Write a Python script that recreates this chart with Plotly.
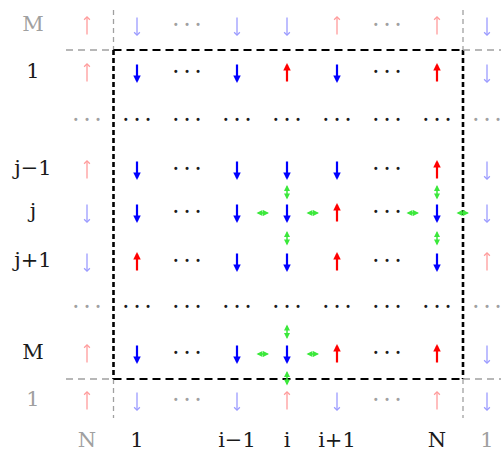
import plotly.graph_objects as go

# Lattice headers (first/last entries are the periodic ghost copies)
col_labels = ["N", "1", "", "i−1", "i", "i+1", "", "N", "1"]
row_labels = ["M", "1", "", "j−1", "j", "j+1", "", "M", "1"]

# Spin configuration on the physical lattice: +1 = up, -1 = down
# columns: 1, i−1, i, i+1, N
spins = {
    "1":   [-1, -1, +1, -1, +1],
    "j−1": [-1, -1, -1, -1, +1],
    "j":   [-1, -1, -1, +1, -1],
    "j+1": [+1, -1, -1, +1, -1],
    "M":   [-1, -1, -1, +1, +1],
}
spin_cols = ["1", "i−1", "i", "i+1", "N"]

# Sites whose four nearest-neighbour couplings are highlighted (row, column)
highlight_sites = [("j", "i"), ("j", "N"), ("M", "i")]

# ---- geometry of the drawing -------------------------------------------
COL_P = {"1": 1, "i−1": 3, "i": 4, "i+1": 5, "N": 7}     # column slots
ELLIPSIS_COLS = [2, 6]
GHOST_COLS = [0, 8]
ROW_Y = [26, 73, 121, 170, 213, 262, 308, 354, 401]     # row centres
ROW_IDX = {"1": 1, "j−1": 3, "j": 4, "j+1": 5, "M": 7}
DOT_ROWS = [2, 6]
GHOST_ROWS = [0, 8]
LABEL_X = -1.08
LABEL_Y = 442
BOUND_X = (0.53, 7.52)
BOUND_Y = (50, 379)

RED, BLUE = "#ff0000", "#0000ff"
RED_F, BLUE_F = "#ff9c9c", "#9c9cff"
GREEN = "#3be83b"
GREY = "#a0a0a0"
INK = "#1a1a1a"
FONT = "DejaVu Serif"


def spin_at(r, p):
    """Spin shown at grid row r, grid slot p, using periodic boundaries."""
    row_name = {0: "M", 8: "1"}.get(r)
    if row_name is None:
        row_name = [k for k, v in ROW_IDX.items() if v == r][0]
    if p == 0:
        col_name = "N"
    elif p == 8:
        col_name = "1"
    else:
        col_name = [k for k, v in COL_P.items() if v == p][0]
    return spins[row_name][spin_cols.index(col_name)]


annotations = []


def arrow(x0, y0, x1, y1, color, width, head, size, both=False):
    annotations.append(dict(
        x=x1, y=y1, ax=x0, ay=y0, xref="x", yref="y", axref="x", ayref="y",
        text="", showarrow=True, arrowcolor=color, arrowwidth=width,
        arrowhead=head, arrowsize=size,
        startarrowhead=head, startarrowsize=size,
        arrowside="end+start" if both else "end",
    ))


dot_x, dot_y, dot_c = [], [], []
HALF = 10
for r, y in enumerate(ROW_Y):
    for p in range(9):
        ghost = r in GHOST_ROWS or p in GHOST_COLS
        if r in DOT_ROWS or p in ELLIPSIS_COLS:
            dot_x.append(p)
            dot_y.append(y)
            dot_c.append(GREY if ghost else INK)
            continue
        s = spin_at(r, p)
        if ghost:
            col = RED_F if s > 0 else BLUE_F
            arrow(p, y + s * HALF, p, y - s * HALF, col, 1.3, 4, 0.85)
        else:
            col = RED if s > 0 else BLUE
            arrow(p, y + s * HALF, p, y - s * HALF, col, 2.2, 2, 0.68)

# highlighted couplings: double-headed green arrows between neighbours
for rname, cname in highlight_sites:
    r, p = ROW_IDX[rname], COL_P[cname]
    y = ROW_Y[r]
    for dp in (-0.5, 0.5):
        xm = p + dp
        arrow(xm - 0.14, y, xm + 0.14, y, GREEN, 1.5, 2, 0.8, both=True)
    for nb in (r - 1, r + 1):
        ym = (y + ROW_Y[nb]) / 2
        arrow(p, ym - 8, p, ym + 8, GREEN, 1.5, 2, 0.8, both=True)

fig = go.Figure()

# ellipses between the shown rows/columns
fig.add_trace(go.Scatter(
    x=dot_x, y=[v - 4 for v in dot_y], mode="text", text=["<b>. . .</b>"] * len(dot_x),
    textfont=dict(family=FONT, size=16, color=dot_c), hoverinfo="skip",
))

# row headers
fig.add_trace(go.Scatter(
    x=[LABEL_X] * len(row_labels), y=ROW_Y, mode="text", text=row_labels,
    textfont=dict(family=FONT, size=21,
                  color=[GREY if r in GHOST_ROWS else INK for r in range(9)]),
    hoverinfo="skip",
))

# column headers
fig.add_trace(go.Scatter(
    x=list(range(9)), y=[LABEL_Y] * 9, mode="text", text=col_labels,
    textfont=dict(family=FONT, size=21,
                  color=[GREY if p in GHOST_COLS else INK for p in range(9)]),
    hoverinfo="skip",
))

# periodic-boundary frame: black inside, grey where it runs into ghost cells
shapes = []
x_lo, x_hi = -0.42, 8.4
y_lo, y_hi = 10, 418
for bx in BOUND_X:
    shapes += [
        dict(type="line", x0=bx, x1=bx, y0=y_lo, y1=BOUND_Y[0],
             line=dict(color=GREY, width=1.3, dash="5px,4px")),
        dict(type="line", x0=bx, x1=bx, y0=BOUND_Y[0], y1=BOUND_Y[1],
             line=dict(color="#000", width=2.6, dash="5px,3px")),
        dict(type="line", x0=bx, x1=bx, y0=BOUND_Y[1], y1=y_hi,
             line=dict(color=GREY, width=1.3, dash="5px,4px")),
    ]
for by in BOUND_Y:
    shapes += [
        dict(type="line", x0=x_lo, x1=BOUND_X[0], y0=by, y1=by,
             line=dict(color=GREY, width=1.3, dash="7px,5px")),
        dict(type="line", x0=BOUND_X[0], x1=BOUND_X[1], y0=by, y1=by,
             line=dict(color="#000", width=2.2, dash="8px,5px")),
        dict(type="line", x0=BOUND_X[1], x1=x_hi, y0=by, y1=by,
             line=dict(color=GREY, width=1.3, dash="7px,5px")),
    ]
for s in shapes:
    s.update(xref="x", yref="y", layer="below")

fig.update_layout(
    width=501, height=456, margin=dict(l=0, r=0, t=0, b=0),
    paper_bgcolor="white", plot_bgcolor="white", showlegend=False,
    xaxis=dict(range=[-1.74, 8.28], visible=False, fixedrange=True),
    yaxis=dict(range=[456, 0], visible=False, fixedrange=True),
    shapes=shapes, annotations=annotations,
)

fig.write_html("out.html")
